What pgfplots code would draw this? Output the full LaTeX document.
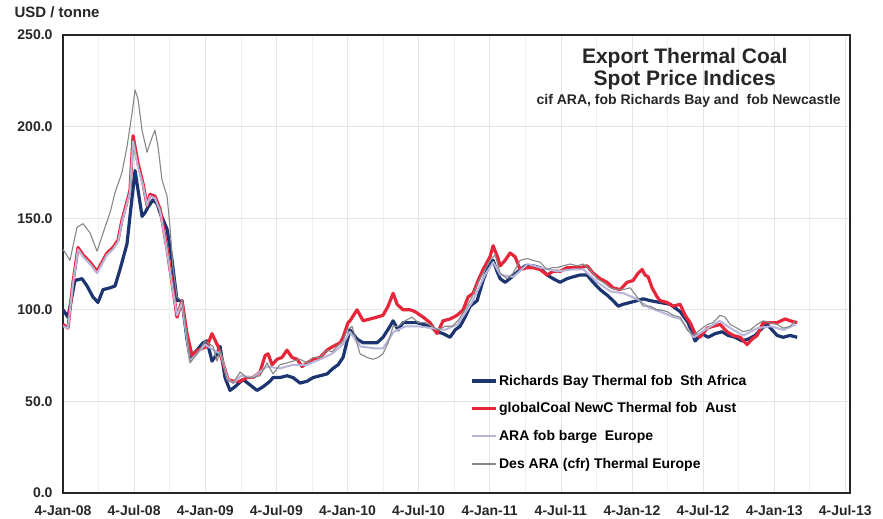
\documentclass[border=0pt]{standalone}
\usepackage{pgfplots}
\pgfplotsset{compat=1.18}
\usepackage{fontspec}
\setmainfont{Liberation Sans}
\definecolor{rbblue}{RGB}{28,52,112}
\definecolor{ncred}{RGB}{230,38,58}
\definecolor{aralav}{RGB}{182,182,218}
\definecolor{desgray}{RGB}{135,135,135}
\begin{document}
\begin{tikzpicture}[x=1pt,y=1pt]
\path[use as bounding box] (-63,-26) rectangle (820,493);
\begin{axis}[
  at={(0,0)}, anchor=south west,
  scale only axis, width=787pt, height=458pt,
  xmin=0, xmax=66.4, ymin=0, ymax=250,
  axis line style={black!85, line width=1.2pt},
  xtick={0,6,...,66},
  xticklabels={4-Jan-08,4-Jul-08,4-Jan-09,4-Jul-09,4-Jan-10,4-Jul-10,4-Jan-11,4-Jul-11,4-Jan-12,4-Jul-12,4-Jan-13,4-Jul-13},
  ytick={0,50,...,250},
  yticklabels={0.0,50.0,100.0,150.0,200.0,250.0},
  minor xtick={3,9,...,63},
  tick style={draw=none},
  grid=both,
  major grid style={black!10, line width=0.6pt},
  minor grid style={black!6, line width=0.5pt},
  ticklabel style={font=\fontsize{14}{16}\selectfont\bfseries, text=black!85},
  xticklabel style={yshift=-9pt},
  yticklabel style={xshift=-7pt},
  legend cell align=left,
  legend style={at={(0.518,0.262)}, anchor=north west, draw=none, fill=none,
    font=\fontsize{14}{16}\selectfont\bfseries, row sep=12pt, inner sep=0pt},
  legend image post style={xscale=1.35},
  clip=true,
]
% Richards Bay
\addplot[rbblue, line width=3.2pt, line join=round] coordinates {
(0,100)(0.42,96)(1.01,116)(1.60,117)(2.03,113)(2.53,107)(2.95,104)(3.38,111)(3.97,112)(4.39,113)(4.81,122)(5.40,136)(5.65,151)(6.08,176)(6.67,151)(6.92,153)(7.17,156)(7.59,160)(7.93,158)(8.19,153)(8.78,144)(9.20,127)(9.62,105)(10.04,105)(10.46,84)(10.72,74)(11.31,78)(11.81,82)(12.15,83)(12.57,72)(12.91,75)(13.25,80)(13.67,63)(14.09,56)(14.51,58)(15.19,62)(15.78,59)(16.37,56)(16.88,58)(17.47,61)(17.72,63)(18.31,63)(18.90,64)(19.41,63)(20.00,60)(20.59,61)(21.10,63)(21.69,64)(22.28,65)(22.78,68)(23.21,70)(23.63,74)(23.97,83)(24.22,89)(24.81,84)(25.32,82)(25.91,82)(26.50,82)(27.00,85)(27.59,91)(27.85,94)(28.27,89)(28.69,93)(29.28,93)(29.87,93)(30.38,92)(30.97,91)(31.56,88)(32.07,87)(32.66,85)(33.08,89)(33.50,91)(33.92,96)(34.35,102)(34.94,105)(35.44,116)(35.86,123)(36.29,127)(36.62,121)(36.88,117)(37.30,115)(37.89,118)(38.40,121)(38.99,124)(39.66,124)(40.25,123)(40.84,119)(41.35,117)(41.94,115)(42.53,117)(43.04,118)(43.63,119)(44.22,119)(44.73,115)(45.32,111)(45.91,108)(46.41,105)(46.84,102)(47.26,103)(47.85,104)(48.44,105)(48.95,106)(49.54,105)(50.38,104)(51.22,103)(52.07,99)(52.74,93)(53.33,83)(53.92,87)(54.43,85)(55.02,87)(55.61,88)(56.12,86)(56.71,85)(57.30,83)(57.81,84)(58.40,86)(58.99,90)(59.41,92)(59.83,89)(60.25,86)(60.76,85)(61.35,86)(61.94,85)
};
\addlegendentry{Richards Bay Thermal fob\ \ Sth Africa}
% globalCoal NewC
\addplot[ncred, line width=3.2pt, line join=round] coordinates {
(0,92)(0.42,90)(0.84,115)(1.27,134)(1.69,130)(2.28,126)(2.87,121)(3.29,126)(3.71,131)(4.22,134)(4.64,138)(4.98,149)(5.65,165)(5.91,195)(6.33,180)(6.75,169)(7.09,157)(7.34,163)(7.76,162)(8.19,155)(8.78,133)(9.28,111)(9.62,96)(10.04,105)(10.46,87)(10.89,75)(11.39,78)(12.15,80)(12.57,87)(13.08,80)(13.50,71)(13.92,62)(14.35,61)(14.94,61)(15.53,63)(16.03,63)(16.62,66)(17.05,75)(17.30,76)(17.64,70)(18.06,73)(18.48,74)(18.90,78)(19.32,74)(19.75,73)(20.17,69)(20.59,71)(21.10,73)(21.69,74)(22.28,78)(22.78,80)(23.38,82)(23.63,85)(24.05,93)(24.22,94)(24.81,100)(25.32,94)(25.91,95)(26.50,96)(27.00,97)(27.43,102)(27.85,109)(28.19,103)(28.69,100)(29.28,100)(29.70,99)(30.38,96)(30.97,93)(31.56,87)(32.07,94)(32.66,95)(33.25,97)(33.76,100)(34.18,107)(34.60,109)(35.02,116)(35.44,122)(36.03,129)(36.29,135)(36.71,128)(36.88,124)(37.30,127)(37.72,131)(38.14,129)(38.57,122)(39.16,123)(39.66,123)(40.25,122)(40.84,119)(41.35,121)(41.94,121)(42.53,123)(43.04,123)(43.63,123)(44.22,124)(44.73,120)(45.32,117)(45.91,115)(46.41,112)(47.00,111)(47.59,115)(48.10,116)(48.52,120)(48.86,122)(49.11,119)(49.37,118)(49.70,112)(50.13,107)(50.38,105)(50.97,104)(51.48,102)(52.07,103)(52.49,97)(52.91,93)(53.33,87)(53.75,85)(54.35,90)(54.85,91)(55.44,92)(56.03,88)(56.54,86)(57.13,85)(57.72,81)(58.14,84)(58.57,86)(59.07,93)(59.66,93)(60.25,93)(60.93,95)(61.35,94)(61.94,93)
};
\addlegendentry{globalCoal NewC Thermal fob\ \ Aust}
% ARA fob barge
\addplot[aralav, line width=2pt, line join=round] coordinates {
(0,91)(0.42,90)(0.84,114)(1.27,133)(1.69,129)(2.28,125)(2.87,120)(3.29,125)(3.71,130)(4.22,133)(4.64,137)(4.98,148)(5.65,164)(5.91,192)(6.33,178)(6.75,168)(7.09,157)(7.34,162)(7.76,161)(8.19,154)(8.78,132)(9.28,110)(9.62,97)(10.04,104)(10.7,72)(11.3,76)(12.0,81)(12.7,78)(13.3,76)(13.9,62)(14.4,60)(15.0,64)(16.0,63)(17.2,69)(18.3,68)(19.4,70)(20.6,70)(21.7,73)(22.7,76)(23.6,81)(24.2,88)(25.1,80)(26.2,79)(27.0,79)(27.9,88)(28.9,91)(30.0,91)(31.1,90)(32.2,89)(33.3,92)(34.5,104)(35.6,119)(36.3,126)(36.9,119)(38.0,118)(39.2,125)(40.3,123)(41.7,121)(43.0,122)(43.9,122)(45.1,115)(46.2,110)(47.3,109)(48.4,106)(49.5,101)(50.4,99)(51.5,96)(52.1,95)(53.2,85)(54.4,90)(55.4,94)(56.3,90)(57.4,86)(58.6,90)(59.7,91)(60.8,89)(61.8,92)
};
\addlegendentry{ARA fob barge\ \ Europe}
% Des ARA
\addplot[desgray, line width=1.1pt, line join=round] coordinates {
(0,133)(0.59,127)(1.18,145)(1.69,147)(2.28,142)(2.87,132)(3.29,140)(3.54,145)(3.97,153)(4.39,164)(4.98,175)(5.40,189)(5.82,207)(6.08,220)(6.33,215)(6.67,198)(7.09,186)(7.51,194)(7.76,198)(8.02,189)(8.35,171)(8.78,162)(9.03,145)(9.28,123)(9.62,107)(10.04,105)(10.30,94)(10.72,71)(11.31,76)(11.98,83)(12.66,80)(13.00,72)(13.25,78)(13.84,62)(14.35,60)(14.94,66)(15.53,63)(16.03,63)(16.62,64)(17.22,71)(17.72,65)(18.31,70)(18.90,71)(19.41,72)(20.00,73)(20.59,71)(21.10,74)(21.69,74)(22.28,78)(22.70,77)(23.12,80)(23.63,83)(23.97,89)(24.39,91)(25.06,76)(25.65,74)(26.16,73)(26.58,74)(27.00,76)(27.43,82)(27.85,91)(28.27,91)(28.86,94)(29.45,96)(29.96,93)(30.55,93)(31.14,91)(31.65,89)(32.24,91)(32.83,91)(33.33,94)(33.92,100)(34.51,107)(35.02,115)(35.61,122)(36.03,127)(36.46,130)(36.88,120)(37.47,117)(37.97,120)(38.57,127)(39.16,128)(39.66,127)(40.25,126)(40.84,122)(41.27,123)(41.69,123)(42.19,124)(42.78,125)(43.38,124)(43.88,125)(44.47,122)(45.06,117)(45.57,115)(46.16,112)(46.75,111)(47.26,111)(47.85,112)(48.44,107)(48.95,102)(49.54,102)(50.13,100)(50.38,100)(50.97,99)(51.48,97)(52.07,96)(52.66,89)(53.16,86)(53.75,89)(54.35,92)(54.85,93)(55.44,97)(55.86,96)(56.29,92)(56.88,90)(57.38,88)(57.97,89)(58.57,92)(59.07,94)(59.66,93)(60.25,92)(60.76,90)(61.35,91)(61.77,94)
};
\addlegendentry{Des ARA (cfr) Thermal Europe}
\node[text=black!85, font=\fontsize{21}{23}\selectfont\bfseries] at (rel axis cs:0.79,0.950) {Export Thermal Coal};
\node[text=black!85, font=\fontsize{21}{23}\selectfont\bfseries] at (rel axis cs:0.79,0.902) {Spot Price Indices};
\node[text=black!85, font=\fontsize{14}{16}\selectfont\bfseries] at (rel axis cs:0.795,0.856) {cif ARA, fob Richards Bay and\ \ fob Newcastle};
\end{axis}
\node[anchor=west, font=\fontsize{15}{17}\selectfont\bfseries, text=black!85] at (-52,481) {USD / tonne};
\end{tikzpicture}
\end{document}
